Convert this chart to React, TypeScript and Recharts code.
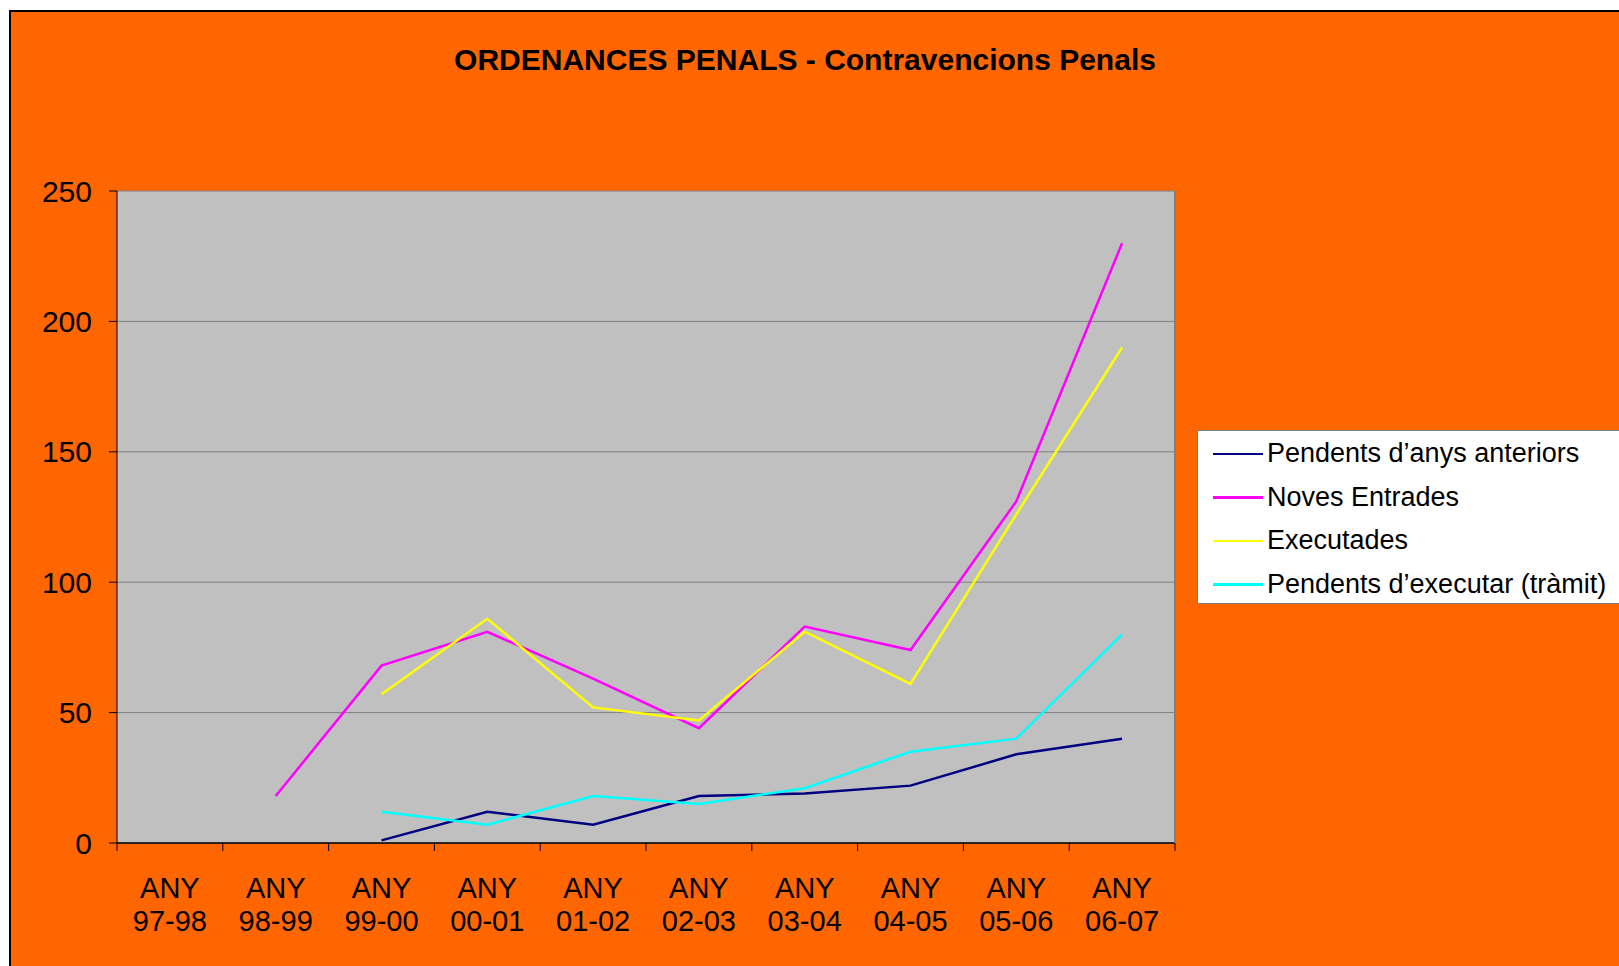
import { LineChart, Line, XAxis, YAxis, CartesianGrid } from "recharts";

const categories = [
  "ANY 97-98",
  "ANY 98-99",
  "ANY 99-00",
  "ANY 00-01",
  "ANY 01-02",
  "ANY 02-03",
  "ANY 03-04",
  "ANY 04-05",
  "ANY 05-06",
  "ANY 06-07",
];
const pendentsAnteriors = [null, null, 1, 12, 7, 18, 19, 22, 34, 40];
const novesEntrades = [null, 18, 68, 81, 63, 44, 83, 74, 131, 230];
const executades = [null, null, 57, 86, 52, 47, 81, 61, 126, 190];
const pendentsExecutar = [null, null, 12, 7, 18, 15, 21, 35, 40, 80];
const yTicks = [0, 50, 100, 150, 200, 250];

const series = [
  { key: "anteriors", name: "Pendents d\u2019anys anteriors", color: "#000080", values: pendentsAnteriors },
  { key: "noves", name: "Noves Entrades", color: "#FF00FF", values: novesEntrades },
  { key: "executades", name: "Executades", color: "#FFFF00", values: executades },
  { key: "executar", name: "Pendents d\u2019executar (tràmit)", color: "#00FFFF", values: pendentsExecutar },
];

const data = categories.map((label, i) => {
  const row: Record<string, number | string | null> = { idx: i, label };
  for (const s of series) row[s.key] = s.values[i];
  return row;
});

// label ticks at category centers, plain tick marks at the boundaries between them
const xTicks: number[] = [-0.5];
categories.forEach((_, i) => xTicks.push(i, i + 0.5));

const FONT = '"Liberation Sans", Arial, sans-serif';

function XTick({ x, y, payload }: any) {
  const v = payload.value as number;
  if (!Number.isInteger(v)) {
    return <line x1={x} x2={x} y1={y} y2={y + 8} stroke="#000" strokeWidth={1} />;
  }
  const [top, bottom] = categories[v].split(" ");
  return (
    <text textAnchor="middle" fontSize={29} fill="#000" fontFamily={FONT}>
      <tspan x={x} y={y + 55}>{top}</tspan>
      <tspan x={x} y={y + 88}>{bottom}</tspan>
    </text>
  );
}

export default function App() {
  return (
    <div style={{ position: "fixed", left: 0, top: 0, width: 1619, height: 966, overflow: "hidden", background: "#fff" }}>
      <div
        style={{
          position: "absolute",
          left: 9,
          top: 10,
          right: 0,
          bottom: 0,
          background: "#FF6600",
          borderLeft: "2px solid #000",
          borderTop: "2px solid #000",
        }}
      />
      <div
        style={{
          position: "absolute",
          left: 0,
          width: 1610,
          top: 43,
          textAlign: "center",
          fontFamily: FONT,
          fontWeight: "bold",
          fontSize: 30,
          color: "#000",
        }}
      >
        ORDENANCES PENALS - Contravencions Penals
      </div>
      <div style={{ position: "absolute", left: 0, top: 0 }}>
        <LineChart
          width={1619}
          height={966}
          data={data}
          margin={{ top: 191, right: 442, bottom: 23, left: 17 }}
        >
          <CartesianGrid fill="#C0C0C0" stroke="#808080" vertical={false} strokeWidth={1} />
          <XAxis
            dataKey="idx"
            type="number"
            domain={[-0.5, categories.length - 0.5]}
            ticks={xTicks}
            interval={0}
            height={100}
            tickSize={0}
            tickMargin={0}
            tickLine={false}
            tick={<XTick />}
            axisLine={{ stroke: "#000", strokeWidth: 1.5 }}
          />
          <YAxis
            domain={[0, 250]}
            ticks={yTicks}
            width={100}
            tickSize={8}
            tickMargin={17}
            tickLine={{ stroke: "#000" }}
            axisLine={{ stroke: "#000" }}
            tick={{ fill: "#000", fontSize: 30, fontFamily: FONT }}
          />
          <YAxis
            yAxisId="frame"
            orientation="right"
            domain={[0, 250]}
            width={2}
            tick={false}
            tickLine={false}
            axisLine={{ stroke: "#808080", strokeWidth: 2 }}
          />
          {series.map((s) => (
            <Line
              key={s.key}
              dataKey={s.key}
              name={s.name}
              stroke={s.color}
              strokeWidth={2.5}
              dot={false}
              activeDot={false}
              type="linear"
              isAnimationActive={false}
            />
          ))}
        </LineChart>
      </div>
      <div
        style={{
          position: "absolute",
          left: 1197,
          top: 430,
          width: 440,
          height: 174,
          background: "#fff",
          border: "1px solid #808080",
          fontFamily: FONT,
          fontSize: 27,
          color: "#000",
          paddingTop: 1,
          boxSizing: "border-box",
        }}
      >
        {series.map((s) => (
          <div key={s.key} style={{ display: "flex", alignItems: "center", height: 43.5 }}>
            <div style={{ marginLeft: 15, width: 50, height: 2.5, background: s.color }} />
            <span style={{ marginLeft: 4, whiteSpace: "nowrap" }}>{s.name}</span>
          </div>
        ))}
      </div>
    </div>
  );
}
